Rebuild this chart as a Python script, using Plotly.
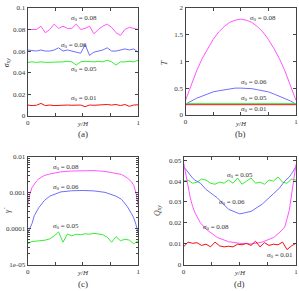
import numpy as np
import plotly.graph_objects as go

# ---------------- data ----------------
x_noisy = [round(0.04 * i, 2) for i in range(26)]
x_smooth = [0, 0.02, 0.04, 0.06, 0.08, 0.1, 0.15, 0.2, 0.3, 0.4, 0.5,
            0.6, 0.7, 0.8, 0.85, 0.9, 0.94, 0.96, 0.98, 1.0]
x_T = [round(0.05 * i, 2) for i in range(21)]

# (a) sigma_xy
a_s08 = [0.080, 0.080, 0.080, 0.083, 0.077, 0.080, 0.085, 0.081, 0.083, 0.081, 0.081,
         0.085, 0.080, 0.081, 0.083, 0.076, 0.080, 0.083, 0.085, 0.082, 0.077, 0.0745,
         0.080, 0.082, 0.081, 0.080]
a_s06 = [0.061, 0.0605, 0.060, 0.061, 0.060, 0.060, 0.061, 0.063, 0.060, 0.061, 0.060,
         0.0595, 0.058, 0.066, 0.056, 0.059, 0.060, 0.061, 0.063, 0.060, 0.060, 0.061,
         0.062, 0.061, 0.062, 0.059]
a_s05 = [0.0495, 0.050, 0.0495, 0.050, 0.0495, 0.0495, 0.050, 0.0495, 0.050, 0.0505,
         0.050, 0.047, 0.050, 0.0505, 0.050, 0.050, 0.0505, 0.050, 0.0515, 0.050, 0.047,
         0.050, 0.050, 0.0505, 0.050, 0.0515]
a_s01 = [0.0100, 0.0095, 0.0098, 0.0115, 0.0095, 0.0100, 0.0095, 0.0098, 0.0097, 0.0100,
         0.0098, 0.0102, 0.0100, 0.0085, 0.0100, 0.0098, 0.0100, 0.0103, 0.0105, 0.0100,
         0.0105, 0.0095, 0.0105, 0.0088, 0.0100, 0.0102]

# (b) T
b_s08 = [0.27, 0.56, 0.82, 1.05, 1.24, 1.41, 1.55, 1.65, 1.73, 1.77, 1.79, 1.77, 1.73,
         1.65, 1.55, 1.41, 1.24, 1.05, 0.82, 0.56, 0.27]
b_s06 = [0.20, 0.26, 0.31, 0.35, 0.39, 0.43, 0.45, 0.47, 0.49, 0.50, 0.50, 0.50, 0.49,
         0.47, 0.45, 0.43, 0.39, 0.35, 0.31, 0.26, 0.20]
b_s05 = [0.21, 0.21, 0.212, 0.213, 0.214, 0.215, 0.216, 0.217, 0.217, 0.218, 0.218,
         0.218, 0.217, 0.217, 0.216, 0.215, 0.214, 0.213, 0.212, 0.21, 0.21]
b_s01 = [0.19] * 21

# (c) gamma dot
c_s08 = [4.5e-4, 9e-4, 1.4e-3, 1.75e-3, 2.1e-3, 2.4e-3, 3.0e-3, 3.3e-3, 3.8e-3, 4.0e-3,
         4.1e-3, 4.1e-3, 3.9e-3, 3.5e-3, 3.2e-3, 2.6e-3, 2.0e-3, 1.6e-3, 1.0e-3, 4.5e-4]
c_s06 = [7.5e-5, 1.0e-4, 1.4e-4, 2.3e-4, 3.1e-4, 3.8e-4, 6.0e-4, 8.0e-4, 1.05e-3, 1.13e-3,
         1.15e-3, 1.12e-3, 1.02e-3, 8.0e-4, 6.5e-4, 4.2e-4, 2.6e-4, 2.0e-4, 1.3e-4, 7.5e-5]
c_s05 = [3.8e-5, 4.4e-5, 4.5e-5, 4.6e-5, 4.8e-5, 5.2e-5, 6.3e-5, 8.1e-5, 4.2e-5, 7.1e-5,
         6.3e-5, 7.0e-5, 6.8e-5, 7.2e-5, 7.0e-5, 7.4e-5, 7.0e-5, 6.8e-5, 5.8e-5, 4.2e-5,
         6.0e-5, 4.6e-5, 5.1e-5, 4.8e-5, 3.8e-5, 4.6e-5]

# (d) Q_xy
d_s08 = [0.049, 0.043, 0.037, 0.032, 0.028, 0.025, 0.020, 0.017, 0.013, 0.011, 0.0102,
         0.0099, 0.0108, 0.013, 0.0152, 0.018, 0.026, 0.033, 0.042, 0.048]
d_s06 = [0.047, 0.0455, 0.044, 0.043, 0.0415, 0.0405, 0.039, 0.036, 0.032, 0.0265, 0.0243,
         0.0255, 0.029, 0.034, 0.0365, 0.040, 0.042, 0.0435, 0.0455, 0.047]
d_s05 = [0.040, 0.0405, 0.039, 0.0395, 0.041, 0.0405, 0.039, 0.0385, 0.0395, 0.039, 0.0405,
         0.039, 0.0415, 0.0385, 0.040, 0.0415, 0.039, 0.0395, 0.0385, 0.0405, 0.040, 0.042,
         0.0395, 0.039, 0.041, 0.0405]
d_s01 = [0.0085, 0.0108, 0.0102, 0.0105, 0.0092, 0.0098, 0.0085, 0.0108, 0.009, 0.0085,
         0.0088, 0.0085, 0.0098, 0.0095, 0.0102, 0.0092, 0.0112, 0.0085, 0.0105, 0.0092,
         0.0098, 0.0095, 0.0108, 0.0072, 0.009, 0.0102]

# ---------------- style ----------------
MAG, BLU, GRN, RED = "#ff55ff", "#6f6fff", "#33ee33", "#ee1111"
FONT = "Liberation Serif"
TXT = "#333333"
W, H = 299, 291

fig = go.Figure()

def add(xs, ys, color, ax):
    fig.add_trace(go.Scatter(x=xs, y=ys, mode="lines", line=dict(color=color, width=1),
                             xaxis="x" + ax, yaxis="y" + ax, showlegend=False,
                             hoverinfo="skip"))

add(x_noisy, a_s08, MAG, "")
add(x_noisy, a_s06, BLU, "")
add(x_noisy, a_s05, GRN, "")
add(x_noisy, a_s01, RED, "")
add(x_T, b_s08, MAG, "2")
add(x_T, b_s06, BLU, "2")
add(x_T, b_s05, GRN, "2")
add(x_T, b_s01, RED, "2")
add(x_smooth, c_s08, MAG, "3")
add(x_smooth, c_s06, BLU, "3")
add(x_noisy, c_s05, GRN, "3")
add(x_noisy, d_s05, GRN, "4")
add(x_smooth, d_s06, BLU, "4")
add(x_smooth, d_s08, MAG, "4")
add(x_noisy, d_s01, RED, "4")

def px(x0, x1):
    return [x0 / W, x1 / W]

def py(top, bottom):
    return [1 - bottom / H, 1 - top / H]

axis_common = dict(showline=True, linecolor="#444444", linewidth=1, mirror="allticks",
                   ticks="inside", ticklen=3, tickcolor="#444444", showgrid=False,
                   zeroline=False, tickfont=dict(family=FONT, size=7, color=TXT))

xticks = dict(tickmode="array", tickvals=[0, 1], ticktext=["0", "1"], range=[0, 1],
              minor=dict(tickmode="array", tickvals=[0.25, 0.5, 0.75], ticks="inside",
                         ticklen=3, tickcolor="#444444", showgrid=False))

fig.update_layout(
    width=W, height=H, margin=dict(l=0, r=0, t=0, b=0),
    paper_bgcolor="white", plot_bgcolor="white",
    xaxis=dict(domain=px(26, 138), anchor="y", **xticks, **axis_common),
    yaxis=dict(domain=py(4, 115), anchor="x", range=[0, 0.1],
               tickvals=[0, 0.02, 0.04, 0.06, 0.08, 0.1],
               ticktext=["0", "0.02", "0.04", "0.06", "0.08", "0.1"], **axis_common),
    xaxis2=dict(domain=px(186, 298), anchor="y2", **xticks, **axis_common),
    yaxis2=dict(domain=py(4, 114), anchor="x2", range=[0, 2],
                tickvals=[0, 0.5, 1, 1.5, 2], ticktext=["0", "0.5", "1", "1.5", "2"],
                **axis_common),
    xaxis3=dict(domain=px(26, 138), anchor="y3", **xticks, **axis_common),
    yaxis3=dict(domain=py(157, 268), anchor="x3", type="log", range=[-5, -2],
                tickvals=[1e-5, 1e-4, 1e-3, 1e-2],
                ticktext=["1e-05", "0.0001", "0.001", "0.01"],
                minor=dict(ticks="inside", ticklen=2, tickcolor="#444444",
                           tickvals=[k * 10 ** e for e in (-5, -4, -3) for k in range(2, 10)]),
                **axis_common),
    xaxis4=dict(domain=px(184, 298), anchor="y4", **xticks, **axis_common),
    yaxis4=dict(domain=py(157, 268), anchor="x4", range=[0, 0.0517],
                tickvals=[0, 0.01, 0.02, 0.03, 0.04, 0.05],
                ticktext=["0", "0.01", "0.02", "0.03", "0.04", "0.05"], **axis_common),
)

def lab(text, x, y, ax, size=7, anchor="center"):
    fig.add_annotation(text=text, x=x, y=y, xref="x" + ax, yref="y" + ax,
                       showarrow=False, xanchor=anchor, yanchor="middle",
                       font=dict(family=FONT, size=size, color=TXT))

S = "<i>σ</i><sub>0</sub> = "
lab(S + "0.08", 0.51, 0.091, "")
lab(S + "0.06", 0.42, 0.066, "")
lab(S + "0.05", 0.51, 0.0435, "")
lab(S + "0.01", 0.51, 0.0165, "")
lab(S + "0.08", 0.70, 1.82, "2")
lab(S + "0.06", 0.62, 0.62, "2")
lab(S + "0.05", 0.62, 0.31, "2")
lab(S + "0.01", 0.62, 0.11, "2")
lab(S + "0.08", 0.35, np.log10(5.1e-3), "3")
lab(S + "0.06", 0.35, np.log10(1.48e-3), "3")
lab(S + "0.05", 0.35, np.log10(1.18e-4), "3")
lab(S + "0.05", 0.506, 0.043, "4")
lab(S + "0.06", 0.43, 0.0298, "4")
lab(S + "0.08", 0.29, 0.0178, "4")
lab(S + "0.01", 0.86, 0.0047, "4")

def ptext(text, xp, yp, size=8, angle=0):
    fig.add_annotation(text=text, x=xp / W, y=1 - yp / H, xref="paper", yref="paper",
                       showarrow=False, xanchor="center", yanchor="middle",
                       textangle=angle, font=dict(family=FONT, size=size, color=TXT))

ptext("<i>y</i>/<i>H</i>", 82, 123, 7)
ptext("<i>y</i>/<i>H</i>", 242, 123, 7)
ptext("<i>y</i>/<i>H</i>", 82, 277, 7)
ptext("<i>y</i>/<i>H</i>", 241, 277, 7)
ptext("(a)", 82, 134, 9)
ptext("(b)", 242, 134, 9)
ptext("(c)", 82, 288, 9)
ptext("(d)", 241, 288, 9)
ptext("<i>σ<sub>xy</sub></i>", 5, 60, 8, -90)
ptext("<i>T</i>", 165, 60, 8, -90)
ptext("<i>γ̇</i>", 5, 212, 8, -90)
ptext("<i>Q<sub>xy</sub></i>", 158, 212, 8, -90)

fig.write_html("out.html", config={"displayModeBar": False},
               post_script="document.body.style.margin='0';document.body.style.padding='0';"
                           "document.documentElement.style.overflow='hidden';")
